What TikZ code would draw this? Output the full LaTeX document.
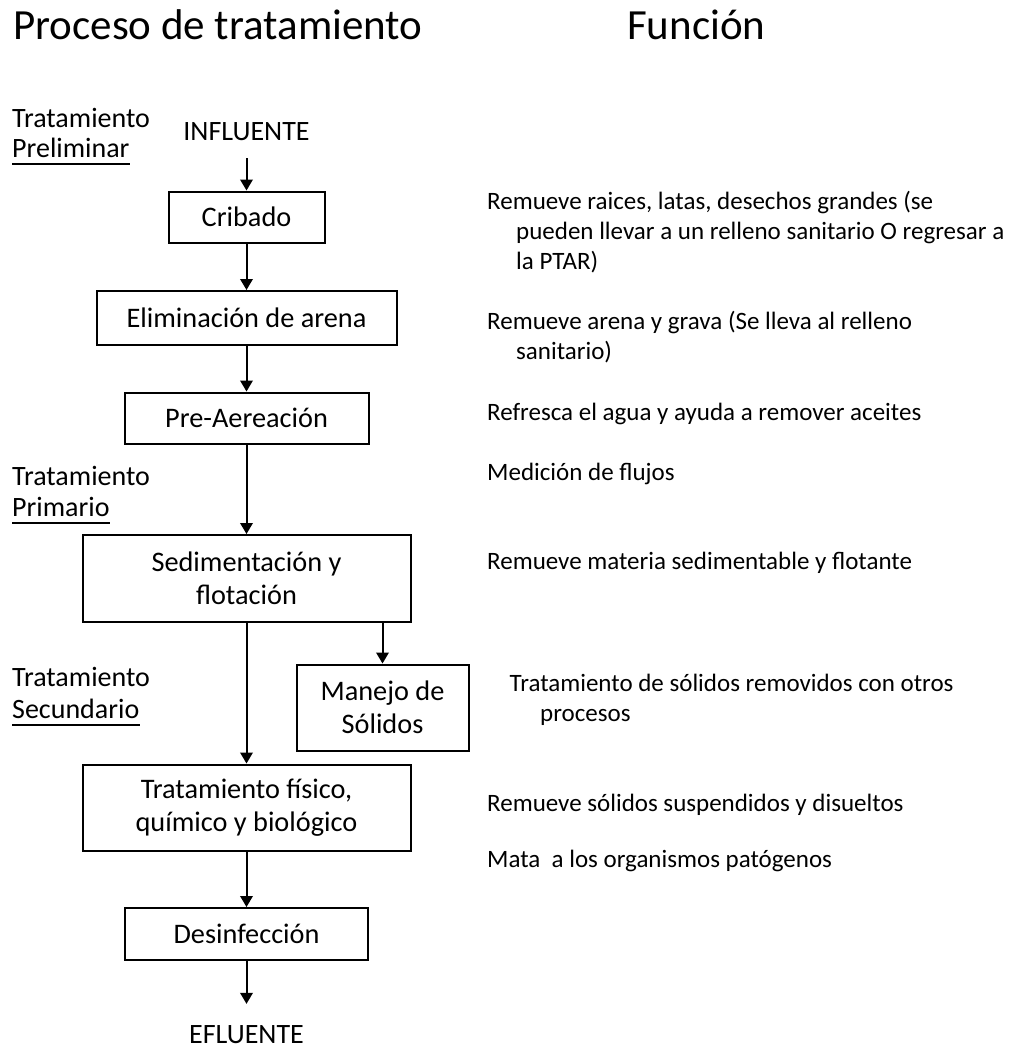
\documentclass[tikz,border=0pt]{standalone}
\usepackage{fontspec}
\setmainfont{Carlito}
\usetikzlibrary{arrows.meta}
\begin{document}
\begin{tikzpicture}[x=1pt,y=-1pt,
  lbl/.style={font=\fontsize{28}{33}\selectfont, inner sep=0pt, anchor=base west},
  txt/.style={font=\fontsize{25}{30}\selectfont, inner sep=0pt, anchor=base west},
  ttl/.style={font=\fontsize{43}{50}\selectfont, inner sep=0pt, anchor=base west},
  box/.style={draw, line width=2pt, inner sep=0pt, font=\fontsize{28.3}{33.5}\selectfont, align=center},
  onebox/.style={box, text height=22pt, text depth=3pt},
  arr/.style={line width=2pt, -{Triangle[length=11pt,width=12.5pt]}},
  uline/.style={line width=1.5pt}]
\useasboundingbox (0,0) rectangle (1009,1049);

% column headings
\node[ttl] (hproc) at (13,40) {Proceso de tratamiento};
\node[ttl] (hfun) at (627,40) {Función};

% stage labels on the left
\node[lbl] (pre1) at (12,127) {Tratamiento};
\node[lbl] (pre2) at (12,157) {Preliminar};
\node[lbl] (pri1) at (12,485) {Tratamiento};
\node[lbl] (pri2) at (12,516) {Primario};
\node[lbl] (sec1) at (12,686) {Tratamiento};
\node[lbl] (sec2) at (12,718) {Secundario};
\draw[uline] ([yshift=-7pt]pre2.base west) -- ([yshift=-7pt]pre2.base east);
\draw[uline] ([yshift=-7pt]pri2.base west) -- ([yshift=-7pt]pri2.base east);
\draw[uline] ([yshift=-7pt]sec2.base west) -- ([yshift=-7pt]sec2.base east);

% process chain
\node[lbl, anchor=base] (infl) at (246.5,140) {INFLUENTE};
\node[onebox, minimum width=156pt, minimum height=51pt] (crib) at (246.5,217) {Cribado};
\node[onebox, minimum width=300pt, minimum height=54pt] (elim) at (246.5,318) {Eliminación de arena};
\node[onebox, minimum width=244pt, minimum height=51pt] (prea) at (246.5,418) {Pre-Aereación};
\node[box, minimum width=328pt, minimum height=87pt] (sed) at (246.5,578.5) {Sedimentación y\\flotación};
\node[box, minimum width=172pt, minimum height=86pt] (man) at (382.5,707.5) {Manejo de\\Sólidos};
\node[box, minimum width=328pt, minimum height=86pt] (trat) at (246.5,807.5) {Tratamiento físico,\\químico y biológico};
\node[onebox, minimum width=243pt, minimum height=52pt] (des) at (246.5,934) {Desinfección};
\node[lbl, anchor=base] (efl) at (246.5,1043) {EFLUENTE};

\draw[arr, shorten <=18pt] (infl.south) -- (crib.north);
\draw[arr] (crib.south) -- (elim.north);
\draw[arr] (elim.south) -- (prea.north);
\draw[arr] (prea.south) -- (sed.north);
\draw[arr] (sed.south) -- (trat.north);
\draw[arr] (man.north |- sed.south) -- (man.north);
\draw[arr] (trat.south) -- (des.north);
\draw[arr, shorten >=21pt] (des.south) -- (efl.north);

% function descriptions
\node[txt] (fa1) at (487,209) {Remueve raices, latas, desechos grandes (se};
\node[txt] (fa2) at (516,239) {pueden llevar a un relleno sanitario O regresar a};
\node[txt] (fa3) at (516,269) {la PTAR)};
\node[txt] (fb1) at (487,329) {Remueve arena y grava (Se lleva al relleno};
\node[txt] (fb2) at (516,359) {sanitario)};
\node[txt] (fc) at (487,420) {Refresca el agua y ayuda a remover aceites};
\node[txt] (fd) at (487,480) {Medición de flujos};
\node[txt] (fe) at (487,569) {Remueve materia sedimentable y flotante};
\node[txt] (ff1) at (509.5,691) {Tratamiento de sólidos removidos con otros};
\node[txt] (ff2) at (540,721) {procesos};
\node[txt] (fg) at (487,811) {Remueve sólidos suspendidos y disueltos};
\node[txt] (fh) at (487,867) {Mata\ \ a los organismos patógenos};
\end{tikzpicture}
\end{document}
